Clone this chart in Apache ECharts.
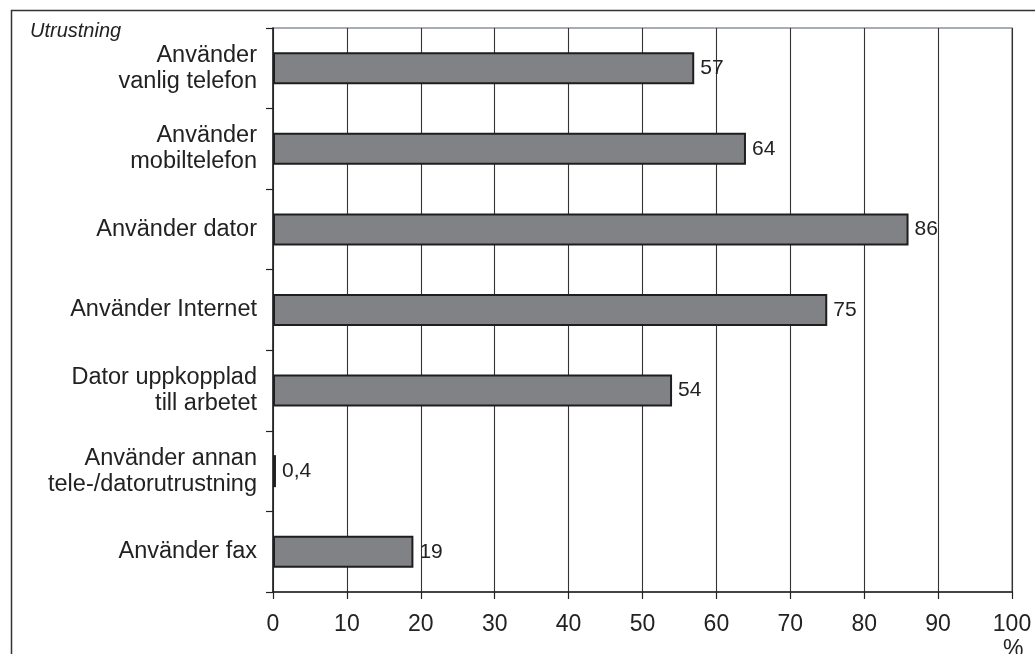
<!DOCTYPE html>
<html>
<head>
<meta charset="utf-8">
<script src="https://cdn.jsdelivr.net/npm/echarts@6/dist/echarts.min.js"></script>
<style>
  html, body { margin: 0; padding: 0; background: #fff; }
  #chart { width: 1035px; height: 654px; }
</style>
</head>
<body>
<div id="chart"></div>
<script>
const categories = [
  'Använder\nvanlig telefon',
  'Använder\nmobiltelefon',
  'Använder dator',
  'Använder Internet',
  'Dator uppkopplad\ntill arbetet',
  'Använder annan\ntele-/datorutrustning',
  'Använder fax'
];
const values = [57, 64, 86, 75, 54, 0.4, 19];
const xTicks = [0, 10, 20, 30, 40, 50, 60, 70, 80, 90, 100];
const axisTitle = 'Utrustning';
const unitLabel = '%';

const chart = echarts.init(document.getElementById('chart'), null, { renderer: 'canvas' });
const font = 'Liberation Sans, Arial, Helvetica, sans-serif';

chart.setOption({
  animation: false,
  backgroundColor: '#ffffff',
  grid: {
    left: 273, right: 23, top: 28, bottom: 62,
    show: true, borderColor: '#8c939a', borderWidth: 1.5, backgroundColor: 'transparent'
  },
  xAxis: {
    type: 'value',
    min: xTicks[0],
    max: xTicks[xTicks.length - 1],
    interval: 10,
    axisLine: { show: true, onZero: false, lineStyle: { color: '#222', width: 1.5 } },
    axisTick: { show: true, length: 7, inside: false, lineStyle: { color: '#222', width: 1.2 } },
    splitLine: { show: true, lineStyle: { color: '#333', width: 1.1 } },
    axisLabel: {
      margin: 21, color: '#222', fontSize: 23, fontFamily: font,
      formatter: function (v) { return xTicks.indexOf(v) >= 0 ? String(v) : ''; }
    }
  },
  yAxis: {
    type: 'category',
    data: categories,
    inverse: true,
    axisLine: { show: true, lineStyle: { color: '#222', width: 1.5 } },
    axisTick: { show: true, length: 7, alignWithLabel: false, lineStyle: { color: '#222', width: 1.2 } },
    splitLine: { show: false },
    axisLabel: {
      margin: 16, color: '#222', fontSize: 23.5, fontFamily: font,
      lineHeight: 26, align: 'right'
    }
  },
  series: [{
    type: 'bar',
    data: values,
    barWidth: 32,
    itemStyle: { color: '#808285', borderColor: '#1e1e1e', borderWidth: 2 },
    label: {
      show: true, position: 'right', distance: 6,
      color: '#222', fontSize: 21, fontFamily: font,
      formatter: function (p) { return String(p.value).replace('.', ','); }
    }
  }],
  graphic: [
    {
      type: 'polyline', silent: true,
      shape: { points: [[1040, 10.5], [11.5, 10.5], [11.5, 660]] },
      style: { stroke: '#333', lineWidth: 1.5, fill: null }
    },
    {
      type: 'text', left: 30, top: 21, silent: true,
      style: { text: axisTitle, font: 'italic 20px ' + font, fill: '#222' }
    },
    {
      type: 'text', left: 1003, top: 638, silent: true,
      style: { text: unitLabel, font: '23px ' + font, fill: '#222' }
    }
  ]
});
</script>
</body>
</html>
